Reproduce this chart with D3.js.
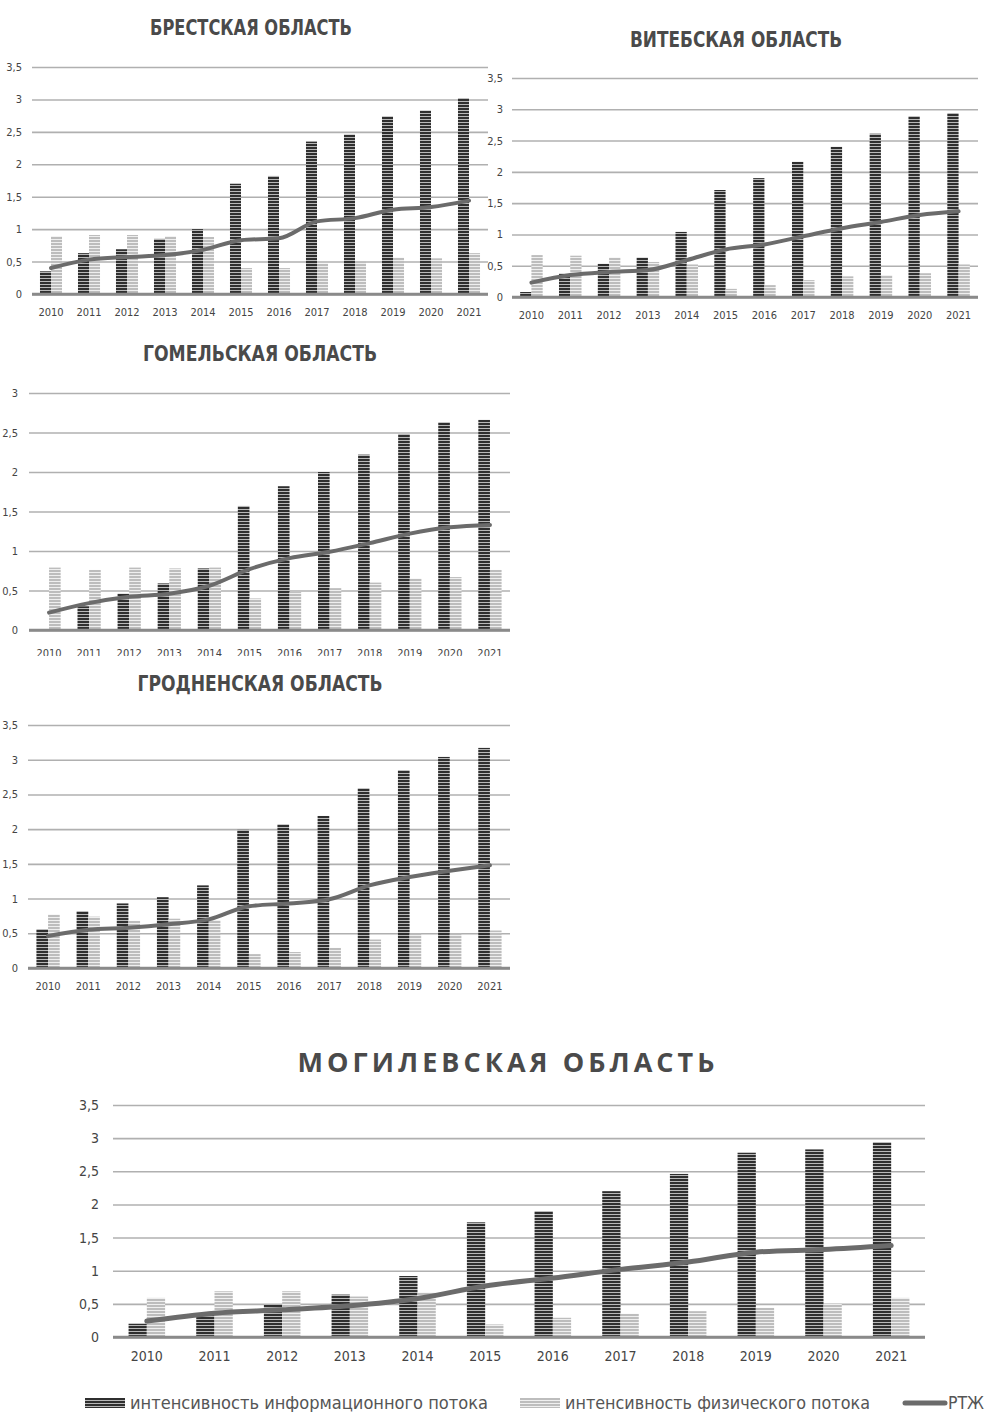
<!DOCTYPE html>
<html><head><meta charset="utf-8">
<script src="https://cdn.jsdelivr.net/npm/d3@7"></script>
<style>
body{margin:0;background:#fff;}
svg{display:block;}
text{font-family:"Liberation Sans Narrow","DejaVu Sans Condensed","Roboto Condensed",sans-serif;fill:#444;}
</style></head>
<body><svg id="c" width="987" height="1412"></svg>
<script>
const years = ["2010","2011","2012","2013","2014","2015","2016","2017","2018","2019","2020","2021"];
const yTicks35 = [0,0.5,1,1.5,2,2.5,3,3.5];
const yTicks3 = [0,0.5,1,1.5,2,2.5,3];
const seriesNames = ["интенсивность информационного потока","интенсивность физического потока","РТЖ"];

const brestInfo = [0.35,0.63,0.69,0.85,1.00,1.70,1.82,2.35,2.46,2.74,2.83,3.02];
const brestPhys = [0.89,0.91,0.91,0.89,0.88,0.40,0.40,0.47,0.50,0.56,0.55,0.63];
const brestRtzh = [0.40,0.53,0.57,0.60,0.68,0.83,0.86,1.12,1.17,1.30,1.34,1.44];

const vitebskInfo = [0.08,0.37,0.53,0.63,1.04,1.71,1.90,2.16,2.40,2.61,2.89,2.94];
const vitebskPhys = [0.67,0.66,0.63,0.56,0.52,0.13,0.19,0.27,0.33,0.35,0.38,0.52];
const vitebskRtzh = [0.23,0.35,0.40,0.43,0.59,0.76,0.84,0.97,1.10,1.20,1.31,1.37];

const gomelInfo = [0,0.30,0.46,0.59,0.78,1.57,1.82,2.00,2.22,2.48,2.63,2.66];
const gomelPhys = [0.79,0.76,0.79,0.78,0.79,0.40,0.48,0.53,0.60,0.65,0.67,0.76];
const gomelRtzh = [0.22,0.34,0.42,0.46,0.56,0.77,0.91,0.99,1.10,1.22,1.30,1.33];

const grodnoInfo = [0.56,0.82,0.93,1.02,1.19,1.99,2.07,2.19,2.59,2.85,3.04,3.17];
const grodnoPhys = [0.77,0.74,0.68,0.71,0.69,0.20,0.23,0.29,0.41,0.50,0.50,0.54];
const grodnoRtzh = [0.46,0.55,0.58,0.63,0.70,0.89,0.93,0.99,1.19,1.31,1.40,1.48];

const mogilevInfo = [0.20,0.36,0.49,0.64,0.92,1.73,1.90,2.20,2.46,2.78,2.83,2.94];
const mogilevPhys = [0.59,0.69,0.69,0.61,0.67,0.19,0.29,0.35,0.39,0.44,0.50,0.59];
const mogilevRtzh = [0.24,0.36,0.41,0.47,0.58,0.77,0.89,1.02,1.13,1.28,1.32,1.38];

const svg = d3.select("#c");
const defs = svg.append("defs");
function stripe(id, h, dark, light, dh){
  const p = defs.append("pattern").attr("id",id).attr("patternUnits","userSpaceOnUse")
    .attr("width",8).attr("height",h);
  p.append("rect").attr("width",8).attr("height",h).attr("fill",light);
  p.append("rect").attr("width",8).attr("height",dh).attr("fill",dark);
}
stripe("pDark",3,"#2f2f2f","#b8b8b8",2);
stripe("pLight",3,"#bdbdbd","#efefef",2);

function panel(o){
  const g = svg.append("g");
  if(o.bg) g.append("rect").attr("x",o.bg[0]).attr("y",o.bg[1]).attr("width",o.bg[2]).attr("height",o.bg[3]).attr("fill","#fff");
  const maxV = o.ticks[o.ticks.length-1];
  const y = d3.scaleLinear().domain([0,maxV]).range([o.y0,o.yTop]);
  const x0 = d3.scaleBand().domain(years).range([o.left,o.right]).paddingInner(o.pad).paddingOuter(o.pad/2);
  const x1 = d3.scaleBand().domain(["info","phys"]).range([0,x0.bandwidth()]);
  const yAxis = d3.axisLeft(y).tickValues(o.ticks).tickSize(-(o.right-o.left)).tickPadding(o.lpad)
    .tickFormat(d=>String(d).replace(".",","));
  const ga = g.append("g").attr("transform",`translate(${o.left},0)`).call(yAxis);
  ga.select(".domain").remove();
  ga.selectAll(".tick line").attr("stroke",d=>d===0?"#8a8a8a":"#b0b0b0").attr("stroke-width",d=>d===0?2.5:1.6);
  ga.selectAll(".tick text").attr("font-size",o.fs).style("fill","#444");
  const rows = years.map((yr,i)=>({yr,info:o.info[i],phys:o.phys[i],r:o.rtzh[i]}));
  const grp = g.selectAll(".grp").data(rows).enter().append("g").attr("transform",d=>`translate(${x0(d.yr)},0)`);
  grp.append("rect").attr("x",x1("info")).attr("width",x1.bandwidth()).attr("y",d=>y(d.info)).attr("height",d=>o.y0-y(d.info)).attr("fill","url(#pDark)");
  grp.append("rect").attr("x",x1("phys")).attr("width",x1.bandwidth()).attr("y",d=>y(d.phys)).attr("height",d=>o.y0-y(d.phys)).attr("fill","url(#pLight)");
  g.append("line").attr("x1",o.left).attr("x2",o.right).attr("y1",y(0)).attr("y2",y(0)).attr("stroke","#8a8a8a").attr("stroke-width",2.5);
  const line = d3.line().x(d=>x0(d.yr)+x0.bandwidth()/2).y(d=>y(d.r)).curve(d3.curveMonotoneX);
  g.append("path").datum(rows).attr("d",line).attr("fill","none").attr("stroke","#6b6b6b").attr("stroke-width",o.lw).attr("stroke-linecap","round");
  const xa = g.append("g").attr("transform",`translate(0,${o.y0})`).call(d3.axisBottom(x0).tickSize(0).tickPadding(o.xpad));
  xa.select(".domain").remove();
  xa.selectAll(".tick text").attr("font-size",o.fs).style("fill","#444");
  g.append("text").attr("x",o.tx - o.tw/2).attr("y",o.ty)
    .attr("font-size",o.tfs).attr("font-weight","bold")
    .attr("textLength",o.tw).attr("lengthAdjust",o.tadj||"spacingAndGlyphs")
    .style("font-family",o.tfont).style("fill","#4a4a4a").text(o.title);
}

const smallTitleFont = '"DejaVu Sans Condensed","Liberation Sans Narrow",sans-serif';

panel({title:"БРЕСТСКАЯ ОБЛАСТЬ",tx:251,ty:35,tw:202,tfs:22,tfont:smallTitleFont,
  left:32,right:488,y0:294,yTop:67,ticks:yTicks35,pad:0.42,lpad:10,xpad:14,fs:11,lw:4,
  info:brestInfo,phys:brestPhys,rtzh:brestRtzh});
panel({title:"ВИТЕБСКАЯ ОБЛАСТЬ",tx:736,ty:47,tw:212,tfs:22,tfont:smallTitleFont,
  left:512,right:978,y0:297,yTop:78,ticks:yTicks35,pad:0.42,lpad:9,xpad:14,fs:11,lw:4,
  info:vitebskInfo,phys:vitebskPhys,rtzh:vitebskRtzh});
panel({title:"ГОМЕЛЬСКАЯ ОБЛАСТЬ",tx:260,ty:361,tw:234,tfs:22,tfont:smallTitleFont,
  left:29,right:510,y0:630,yTop:393,ticks:yTicks3,pad:0.42,lpad:11,xpad:19,fs:11,lw:4,
  info:gomelInfo,phys:gomelPhys,rtzh:gomelRtzh});
panel({title:"ГРОДНЕНСКАЯ ОБЛАСТЬ",tx:260,ty:691,tw:245,tfs:22,tfont:smallTitleFont,bg:[0,656,520,350],
  left:28,right:510,y0:968,yTop:725,ticks:yTicks35,pad:0.42,lpad:10,xpad:14,fs:11,lw:4,
  info:grodnoInfo,phys:grodnoPhys,rtzh:grodnoRtzh});
panel({title:"МОГИЛЕВСКАЯ ОБЛАСТЬ",tx:506,ty:1072,tw:417,tfs:27,tadj:"spacing",tfont:'"Open Sans","DejaVu Sans",sans-serif',
  left:113,right:925,y0:1337,yTop:1105,ticks:yTicks35,pad:0.46,lpad:14,xpad:14,fs:14,lw:5,
  info:mogilevInfo,phys:mogilevPhys,rtzh:mogilevRtzh});

const lg = svg.append("g");
const legendItems = [
  {name:seriesNames[0],sx:85,tx:130,tw:358,type:"dark"},
  {name:seriesNames[1],sx:520,tx:565,tw:305,type:"light"},
  {name:seriesNames[2],sx:905,tx:948,tw:36,type:"line"}
];
legendItems.forEach(d=>{
  if(d.type==="line"){
    lg.append("line").attr("x1",d.sx).attr("x2",d.sx+40).attr("y1",1403).attr("y2",1403).attr("stroke","#6b6b6b").attr("stroke-width",5).attr("stroke-linecap","round");
  } else {
    lg.append("rect").attr("x",d.sx).attr("y",1398).attr("width",40).attr("height",10).attr("fill",d.type==="dark"?"url(#pDark)":"url(#pLight)");
  }
  lg.append("text").attr("x",d.tx).attr("y",1409).attr("font-size",17).attr("textLength",d.tw).attr("lengthAdjust","spacingAndGlyphs").style("fill","#555").text(d.name);
});
</script></body></html>
